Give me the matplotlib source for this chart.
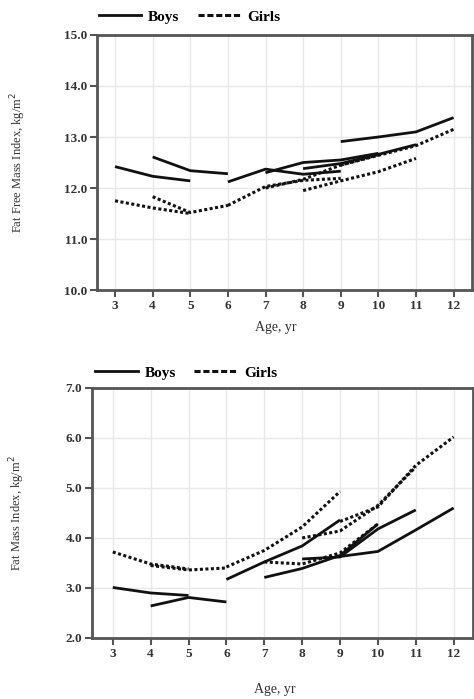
import matplotlib
matplotlib.use('Agg')
from matplotlib import pyplot as plt
from matplotlib.lines import Line2D

plt.rcParams['font.family'] = ['Liberation Serif', 'DejaVu Serif']

# ---- data: each cohort is (start age, values) ----
ffmi_boys = [
    (3, [12.42, 12.23, 12.14]),
    (4, [12.61, 12.34, 12.28]),
    (6, [12.12, 12.37, 12.27, 12.33]),
    (7, [12.30, 12.50, 12.55, 12.68]),
    (8, [12.38, 12.48, 12.66, 12.85]),
    (9, [12.91, 13.00, 13.10, 13.38]),
]
ffmi_girls = [
    (3, [11.75, 11.61, 11.50]),
    (4, [11.83, 11.52, 11.66]),
    (6, [11.66, 12.03, 12.15, 12.19]),
    (7, [12.00, 12.17, 12.45, 12.65]),
    (8, [11.95, 12.14, 12.32, 12.58]),
    (9, [12.45, 12.64, 12.83, 13.15]),
]
fmi_boys = [
    (3, [3.01, 2.90, 2.85]),
    (4, [2.64, 2.81, 2.72]),
    (6, [3.17, 3.52, 3.84, 4.36]),
    (7, [3.21, 3.39, 3.65, 4.28]),
    (8, [3.58, 3.62, 4.18, 4.56]),
    (9, [3.63, 3.73, 4.16, 4.60]),
]
fmi_girls = [
    (3, [3.72, 3.48, 3.38]),
    (4, [3.45, 3.36, 3.40]),
    (6, [3.42, 3.75, 4.22, 4.93]),
    (7, [3.52, 3.48, 3.70, 4.28]),
    (8, [4.00, 4.14, 4.65, 5.42]),
    (9, [4.33, 4.62, 5.45, 6.02]),
]
ages = list(range(3, 13))

dotted = (0, (1.0, 0.8))
fig = plt.figure(figsize=[4.74, 6.99], dpi=100)


def panel(rect, xlim, boys, girls, yticks, ylabel, leg_anchor):
    ax = fig.add_axes(rect)
    for start, vals in boys:
        ax.plot(range(start, start + len(vals)), vals, color='#111111', lw=2.0,
                solid_capstyle='butt')
    for start, vals in girls:
        ax.plot(range(start, start + len(vals)), vals, color='#111111', lw=2.2,
                linestyle=dotted)
    ax.set_xlim(xlim)
    ax.set_ylim(yticks[0], yticks[-1])
    ax.set_xticks(ages)
    ax.set_yticks(yticks)
    ax.set_yticklabels(['%.1f' % v for v in yticks])
    ax.grid(True, color='#e8e8e8', lw=1.0)
    ax.set_axisbelow(True)
    for s in ax.spines.values():
        s.set_color('#555555')
        s.set_linewidth(2.0)
    ax.tick_params(axis='both', direction='out', length=5, width=1.5, color='#555555',
                   labelsize=9.5, pad=2)
    for lab in ax.get_xticklabels() + ax.get_yticklabels():
        lab.set_fontweight('bold')
        lab.set_color('#333333')
    ax.set_ylabel(ylabel, fontsize=9, color='#333333')
    ax.set_xlabel('Age, yr', fontsize=10, color='#333333')
    handles = [Line2D([], [], color='#111111', lw=2.0),
               Line2D([], [], color='#111111', lw=2.2, linestyle=(0, (2.0, 0.9)))]
    ax.legend(handles, ['Boys', 'Girls'], ncol=2, frameon=False, loc='lower left',
              bbox_to_anchor=leg_anchor, bbox_transform=fig.transFigure,
              handlelength=2.8, handletextpad=0.45, columnspacing=1.2,
              borderaxespad=0, borderpad=0,
              prop={'weight': 'bold', 'size': 11})
    return ax


ax1 = panel([0.2046, 0.585, 0.792, 0.365], (2.52, 12.5), ffmi_boys, ffmi_girls,
            [10.0, 11.0, 12.0, 13.0, 14.0, 15.0], 'Fat Free Mass Index, kg/m$^2$',
            (0.208, 0.966))
ax1.yaxis.set_label_coords(-0.185, 0.5)
ax1.xaxis.set_label_coords(0.475, -0.12)

ax2 = panel([0.194, 0.0873, 0.803, 0.3577], (2.45, 12.5), fmi_boys, fmi_girls,
            [2.0, 3.0, 4.0, 5.0, 6.0, 7.0], 'Fat Mass Index, kg/m$^2$',
            (0.2, 0.457))
ax2.yaxis.set_label_coords(-0.17, 0.5)
ax2.xaxis.set_label_coords(0.48, -0.18)

plt.savefig('out.png', dpi=100)
